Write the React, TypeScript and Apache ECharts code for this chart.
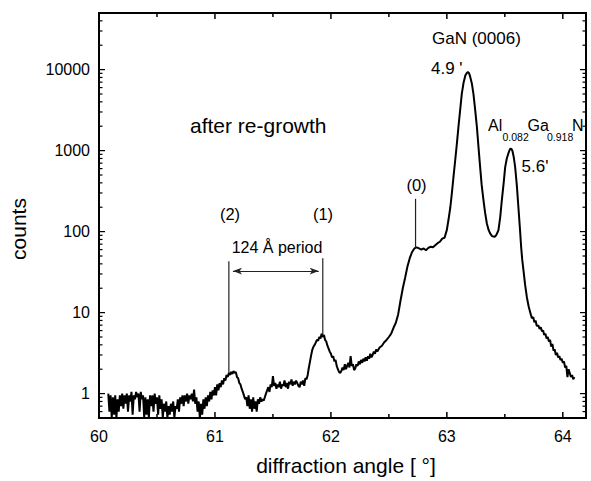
import React, { useEffect, useRef } from "react";
import * as echarts from "echarts";

// ---- data (angle in degrees, counts) ----
const lowAngleScan: [number, number][] = [
  [60.08, 1.0], [60.09, 0.6], [60.1, 0.95], [60.11, 0.5], [60.12, 0.9], [60.13, 0.55], [60.14, 0.95], [60.15, 0.5],
  [60.16, 0.85], [60.17, 0.6], [60.18, 0.95], [60.19, 0.7], [60.2, 1.0], [60.21, 0.65], [60.22, 0.95], [60.23, 0.75],
  [60.24, 1.0], [60.25, 0.6], [60.26, 0.95], [60.27, 0.8], [60.28, 1.05], [60.29, 0.55], [60.3, 0.95], [60.31, 0.85],
  [60.32, 1.05], [60.33, 0.9], [60.34, 1.0], [60.35, 0.6], [60.36, 1.05], [60.37, 0.85], [60.38, 0.95], [60.39, 0.5],
  [60.4, 0.9], [60.41, 0.55], [60.42, 0.85], [60.43, 0.5], [60.44, 0.95], [60.45, 0.7], [60.46, 0.95], [60.47, 0.6],
  [60.48, 1.0], [60.49, 0.75], [60.5, 0.9], [60.51, 0.55], [60.52, 0.95], [60.53, 0.65], [60.54, 0.85], [60.55, 0.5],
  [60.56, 0.75], [60.57, 0.6], [60.58, 0.8], [60.59, 0.5], [60.6, 0.7], [60.61, 0.55], [60.62, 0.75], [60.63, 0.6],
  [60.64, 0.8], [60.65, 0.5], [60.66, 0.7], [60.67, 0.65], [60.68, 0.85], [60.69, 0.6], [60.7, 0.9], [60.71, 0.75],
  [60.72, 0.95], [60.73, 0.7], [60.74, 0.95], [60.75, 0.8], [60.76, 1.0], [60.77, 0.75], [60.78, 0.95], [60.79, 0.85],
  [60.8, 1.0], [60.81, 0.8], [60.82, 1.12], [60.83, 0.75], [60.84, 0.9], [60.85, 0.6], [60.86, 0.8], [60.87, 0.5],
  [60.88, 0.75], [60.89, 0.55], [60.9, 0.85], [60.91, 0.65], [60.92, 0.9], [60.93, 0.7], [60.94, 0.95], [60.95, 0.8],
  [60.96, 1.05], [60.97, 0.85], [60.98, 1.1], [60.99, 0.95], [61.0, 1.2],
];

const superlatticeScan: [number, number][] = [
  [61.01, 0.95], [61.02, 1.3], [61.03, 1.1], [61.04, 1.35], [61.05, 1.2], [61.06, 1.45], [61.07, 1.3], [61.08, 1.55],
  [61.09, 1.45], [61.1, 1.7], [61.11, 1.6], [61.12, 1.8], [61.13, 1.7], [61.14, 1.85], [61.15, 1.75], [61.16, 1.9],
  [61.17, 1.8], [61.18, 1.85], [61.19, 1.6], [61.2, 1.55], [61.21, 1.35], [61.22, 1.3], [61.23, 1.15], [61.24, 1.05],
  [61.25, 0.95], [61.26, 0.85], [61.27, 0.9], [61.28, 0.7], [61.29, 0.95], [61.3, 0.65], [61.31, 0.85], [61.32, 0.6],
  [61.33, 0.9], [61.34, 0.65], [61.35, 0.8], [61.36, 0.6], [61.37, 0.85], [61.38, 0.75], [61.39, 0.9], [61.4, 0.8],
  [61.41, 0.85], [61.42, 0.82], [61.43, 0.9], [61.44, 1.0], [61.45, 1.1], [61.46, 1.2], [61.47, 1.05], [61.48, 1.3],
  [61.49, 1.2], [61.5, 1.65], [61.51, 1.25], [61.52, 1.35], [61.53, 1.15], [61.54, 1.3], [61.55, 1.2], [61.56, 1.4],
  [61.57, 1.15], [61.58, 1.3], [61.59, 1.25], [61.6, 1.45], [61.61, 1.2], [61.62, 1.35], [61.63, 1.15], [61.64, 1.4],
  [61.65, 1.3], [61.66, 1.5], [61.67, 1.25], [61.68, 1.4], [61.69, 1.3], [61.7, 1.45], [61.71, 1.35], [61.72, 1.25],
  [61.73, 1.2], [61.74, 1.4], [61.75, 1.3], [61.76, 1.45], [61.77, 1.25], [61.78, 1.55], [61.79, 1.5], [61.8, 1.7],
  [61.81, 2.1], [61.82, 2.5], [61.83, 3.0], [61.84, 3.5], [61.85, 3.8], [61.86, 4.0], [61.87, 4.3], [61.88, 4.6],
  [61.89, 4.5], [61.9, 5.0], [61.91, 4.8], [61.92, 5.5], [61.93, 5.0], [61.94, 5.3], [61.95, 4.6], [61.96, 4.4],
  [61.97, 3.9], [61.98, 3.6], [61.99, 3.3], [62.0, 3.1], [62.01, 2.8], [62.02, 2.9], [62.03, 2.5], [62.04, 2.6],
  [62.05, 2.2], [62.06, 2.0], [62.07, 1.85], [62.08, 1.8], [62.09, 1.9], [62.1, 2.1], [62.11, 1.95], [62.12, 2.3],
  [62.13, 2.0], [62.14, 2.2], [62.15, 2.4], [62.16, 2.1], [62.17, 2.9], [62.18, 2.2], [62.19, 2.3], [62.2, 1.95],
  [62.21, 2.05], [62.22, 2.3], [62.23, 2.2], [62.24, 2.5], [62.25, 2.3], [62.26, 2.6], [62.27, 2.4], [62.28, 2.7],
  [62.29, 2.5], [62.3, 2.8], [62.31, 2.55], [62.32, 2.9], [62.33, 2.7], [62.34, 3.1], [62.35, 2.8], [62.36, 3.0],
  [62.37, 3.3], [62.38, 3.1], [62.39, 3.5], [62.4, 3.3], [62.42, 3.7], [62.44, 3.9], [62.46, 4.3], [62.48, 4.6],
  [62.5, 5.0], [62.52, 5.5], [62.54, 6.5], [62.56, 7.5], [62.58, 9.5], [62.6, 14], [62.62, 20], [62.64, 27],
  [62.66, 37], [62.68, 47], [62.7, 56], [62.72, 62], [62.74, 64], [62.76, 62], [62.78, 60], [62.8, 62],
  [62.82, 59], [62.84, 63], [62.86, 65], [62.88, 64], [62.9, 68], [62.92, 72], [62.94, 75], [62.96, 82], [62.98, 84],
];

const braggPeaks: [number, number][] = [
  [63.0, 105], [63.014, 140], [63.03, 200], [63.043, 297], [63.057, 470], [63.072, 760], [63.086, 1200], [63.1, 1960],
  [63.115, 3200], [63.129, 5050], [63.145, 7000], [63.16, 8500], [63.172, 9100], [63.181, 9300], [63.19, 9100],
  [63.2, 8300], [63.215, 6800], [63.229, 5050], [63.244, 3200], [63.259, 1960], [63.273, 1100], [63.287, 625],
  [63.3, 380], [63.316, 243], [63.33, 170], [63.345, 126], [63.36, 105], [63.373, 95], [63.39, 88], [63.41, 86],
  [63.425, 90], [63.445, 104], [63.46, 150], [63.474, 243], [63.49, 400], [63.503, 625], [63.517, 800], [63.531, 930],
  [63.544, 1040], [63.554, 1060], [63.565, 1000], [63.577, 830], [63.589, 625], [63.603, 380], [63.617, 200],
  [63.63, 110], [63.641, 64],
];

const highAngleTail: [number, number][] = [
  [63.65, 45], [63.661, 33], [63.675, 22], [63.69, 15.5], [63.705, 12], [63.718, 10.2], [63.733, 8.5], [63.745, 8.8],
  [63.755, 7.6], [63.765, 8.0], [63.775, 6.9], [63.79, 6.9], [63.8, 6.3], [63.81, 6.6], [63.82, 5.9], [63.83, 6.0],
  [63.84, 5.3], [63.85, 5.5], [63.86, 4.8], [63.87, 5.0], [63.88, 4.4], [63.89, 4.6], [63.9, 3.8], [63.91, 4.1],
  [63.92, 3.4], [63.93, 3.5], [63.94, 3.0], [63.95, 3.2], [63.96, 2.8], [63.97, 2.9], [63.98, 2.6], [63.99, 2.7],
  [64.0, 2.4], [64.01, 2.5], [64.02, 2.1], [64.03, 2.2], [64.04, 1.6], [64.05, 2.0], [64.06, 1.8], [64.07, 1.6],
  [64.08, 1.7], [64.09, 1.5], [64.1, 1.6],
];

// ---- axes ----
const xMin = 60;
const xMax = 64.2;
const yMin = 0.5;
const yMax = 50000;
const xMajorTicks = [60, 61, 62, 63, 64];
const xMinorTicks = [60.5, 61.5, 62.5, 63.5];
const yMajorTicks = [1, 10, 100, 1000, 10000];
const yMinorTicks = [
  0.6, 0.7, 0.8, 0.9,
  2, 3, 4, 5, 6, 7, 8, 9,
  20, 30, 40, 50, 60, 70, 80, 90,
  200, 300, 400, 500, 600, 700, 800, 900,
  2000, 3000, 4000, 5000, 6000, 7000, 8000, 9000,
  20000, 30000, 40000,
];

// satellite peak markers: angle, bottom and top counts of the marker line
const satelliteMarkers = [
  { label: "(2)", angle: 61.12, low: 1.8, high: 43 },
  { label: "(1)", angle: 61.93, low: 5.2, high: 47 },
  { label: "(0)", angle: 62.73, low: 63, high: 255 },
];
// period arrow (arrowhead centres) at a counts level
const periodArrow = { from: 61.155, to: 61.895, level: 32.6 };

const FONT = "'Liberation Sans', Arial, Helvetica, sans-serif";

export default function App() {
  const ref = useRef<HTMLDivElement>(null);

  useEffect(() => {
    document.body.style.margin = "0";
    if (!ref.current) return;
    const chart = echarts.init(ref.current, undefined, { renderer: "svg" });
    const black = "#000";

    const xAxisDef = (position: string, labels: boolean) => ({
      type: "value",
      min: xMin,
      max: xMax,
      position,
      axisLine: { show: true, onZero: false, lineStyle: { color: black, width: 2 } },
      axisTick: { show: false },
      axisLabel: {
        show: labels,
        customValues: xMajorTicks,
        color: black,
        fontSize: 16,
        fontFamily: FONT,
        margin: 10,
        formatter: (v: number) => String(v),
      },
      splitLine: { show: false },
    });

    const yAxisDef = (position: string, labels: boolean) => ({
      type: "log",
      logBase: 10,
      min: yMin,
      max: yMax,
      position,
      axisLine: { show: true, onZero: false, lineStyle: { color: black, width: 2 } },
      axisTick: { show: false },
      axisLabel: {
        show: labels,
        customValues: yMajorTicks,
        color: black,
        fontSize: 16,
        fontFamily: FONT,
        margin: 9,
        formatter: (v: number) => String(Math.round(v)),
      },
      splitLine: { show: false },
    });

    const scan = [...lowAngleScan, ...superlatticeScan, ...braggPeaks, ...highAngleTail];

    // tick data: [value, placeholder, isMajor]
    const xTickData = [...xMajorTicks.map((v) => [v, 1, 1]), ...xMinorTicks.map((v) => [v, 1, 0])];
    const yTickData = [...yMajorTicks.map((v) => [xMin, v, 1]), ...yMinorTicks.map((v) => [xMin, v, 0])];

    const tickLine = (x1: number, y1: number, x2: number, y2: number, w: number) => ({
      type: "line",
      shape: { x1, y1, x2, y2 },
      style: { stroke: black, lineWidth: w },
    });

    const markerSeries = satelliteMarkers.map((m) => ({
      type: "line",
      symbol: "none",
      silent: true,
      lineStyle: { color: "#222", width: 1.2 },
      data: [
        [m.angle, m.low],
        [m.angle, m.high],
      ],
    }));

    const txt = (text: string, x: number, y: number, size: number, align = "left", rotation = 0) => ({
      type: "text",
      x,
      y,
      rotation,
      silent: true,
      style: {
        text,
        fill: black,
        fontSize: size,
        fontFamily: FONT,
        align,
        verticalAlign: "middle",
      },
    });

    const option: any = {
      animation: false,
      backgroundColor: "#fff",
      grid: { left: 99, top: 13, right: 5, bottom: 63 },
      xAxis: [xAxisDef("bottom", true), xAxisDef("top", false)],
      yAxis: [yAxisDef("left", true), yAxisDef("right", false)],
      series: [
        {
          type: "line",
          name: "after re-growth",
          data: scan,
          symbol: "none",
          showSymbol: false,
          clip: true,
          lineStyle: { color: black, width: 2 },
          markLine: {
            silent: true,
            symbol: ["arrow", "arrow"],
            symbolSize: [5, 9],
            label: { show: false },
            lineStyle: { color: "#222", width: 1.2, type: "solid" },
            data: [
              [
                { coord: [periodArrow.from, periodArrow.level] },
                { coord: [periodArrow.to, periodArrow.level] },
              ],
            ],
          },
        },
        ...markerSeries,
        {
          type: "custom",
          silent: true,
          clip: false,
          data: xTickData,
          encode: { x: 0, y: 1 },
          renderItem: (_p: any, api: any) => {
            const v = api.value(0);
            const major = api.value(2) === 1;
            const len = major ? 6 : 4;
            const b = api.coord([v, yMin]);
            const t = api.coord([v, yMax]);
            return {
              type: "group",
              children: [
                tickLine(b[0], b[1], b[0], b[1] - len, 1.5),
                tickLine(t[0], t[1], t[0], t[1] + len, 1.5),
              ],
            };
          },
        },
        {
          type: "custom",
          silent: true,
          clip: false,
          data: yTickData,
          encode: { x: 0, y: 1 },
          renderItem: (_p: any, api: any) => {
            const v = api.value(1);
            const major = api.value(2) === 1;
            const len = major ? 6 : 3.5;
            const l = api.coord([xMin, v]);
            const r = api.coord([xMax, v]);
            return {
              type: "group",
              children: [
                tickLine(l[0], l[1], l[0] + len, l[1], 1.2),
                tickLine(r[0], r[1], r[0] - len, r[1], 1.2),
              ],
            };
          },
        },
      ],
      graphic: [
        txt("counts", 18, 229, 21, "center", Math.PI / 2),
        txt("diffraction angle [ °]", 346, 465, 21, "center"),
        txt("after re-growth", 190, 125, 21),
        txt("GaN (0006)", 432, 38, 17),
        txt("4.9 '", 431, 68, 17),
        txt("Al", 488, 125, 16),
        txt("0.082", 502.5, 136.5, 10.5),
        txt("Ga", 527.5, 125, 16),
        txt("0.918", 547, 136.5, 10.5),
        txt("N", 572, 125, 16),
        txt("5.6'", 521.5, 166, 17),
        ...satelliteMarkers.map((m, i) =>
          txt(m.label, [230, 323, 416.5][i], [213.5, 213.5, 185][i], 16.5, "center")
        ),
        txt("124 Å period", 277, 247, 16, "center"),
      ],
    };

    chart.setOption(option);
    return () => chart.dispose();
  }, []);

  return <div ref={ref} style={{ width: 591, height: 481 }} />;
}
